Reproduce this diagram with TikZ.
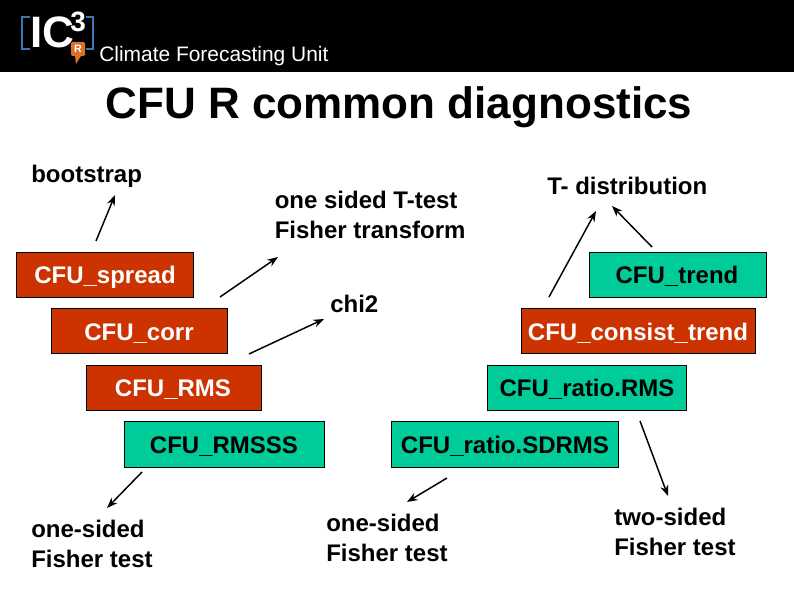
\documentclass[tikz,border=0pt]{standalone}
\usepackage{fontspec}
\setmainfont{Liberation Sans}
\usetikzlibrary{arrows.meta}
\definecolor{redbox}{RGB}{204,51,0}
\definecolor{greenbox}{RGB}{0,204,153}
\definecolor{logoblue}{RGB}{62,120,178}
\definecolor{logoorange}{RGB}{222,110,40}
\tikzset{
  x=0.75pt,y=-0.75pt,
  box/.style={draw=black,line width=0.7pt,minimum height=34.2pt,inner sep=0pt,font=\fontsize{18}{18}\selectfont\bfseries},
  redb/.style={box,fill=redbox,text=white!95!yellow},
  greenb/.style={box,fill=greenbox,text=black},
  lab/.style={inner sep=0pt,align=left,font=\fontsize{18}{22.5}\selectfont\bfseries,text=black},
  arr/.style={line width=1.1pt,-{Stealth[length=8pt,width=6pt]}},
  lg/.style={line width=2.2pt,logoblue}
}
\newcommand{\mybox}[6]{\node[#1,minimum width=#5*0.75pt-#3*0.75pt] (#2) at ({(#3+#5)/2},{(#4+#6)/2}) {};}
\begin{document}
\begin{tikzpicture}
\useasboundingbox (0,0) rectangle (794,595);
\fill[white] (0,0) rectangle (794,595);
\fill[black] (0,0) rectangle (794,72);
% logo
\draw[lg] (30,17) -- (22,17) -- (22,49) -- (30,49);
\draw[lg] (86,17) -- (93,17) -- (93,49) -- (86,49);
\node[inner sep=0pt,anchor=base west,text=white,font=\fontsize{33}{33}\selectfont\bfseries] (ic) at (30,48) {IC};
\node[inner sep=0pt,anchor=base west,text=white,font=\fontsize{21}{21}\selectfont\bfseries] (three) at (70,32) {3};
\fill[logoorange,rounded corners=1pt] (71,42) rectangle (85,56);
\fill[logoorange] (75,56) -- (81,56) -- (76,64) -- cycle;
\node[inner sep=0pt,text=white,font=\fontsize{8}{8}\selectfont\bfseries] (rr) at (78,49) {R};
\node[inner sep=0pt,anchor=base west,text=white,font=\fontsize{15.7}{16}\selectfont] (unit) at (99,62) {Climate Forecasting Unit};
\node[inner sep=0pt,anchor=base,text=black,font=\fontsize{33}{33}\selectfont\bfseries] (title) at (399,119) {CFU R common diagnostics};
% boxes
\mybox{redb}{spread}{16}{252}{193}{298}
\mybox{redb}{corr}{51}{308}{227}{354}
\mybox{redb}{rms}{86}{365}{261}{411}
\mybox{greenb}{rmsss}{124}{422}{324}{467}
\mybox{greenb}{trend}{589}{252}{766}{298}
\mybox{redb}{consist}{521}{308}{755}{354}
\mybox{greenb}{ratio}{487}{365}{686}{411}
\mybox{greenb}{sdrms}{391}{422}{618}{467}
\node[lab,text=white,anchor=base] at (105,284) {CFU\_spread};
\node[lab,text=white,anchor=base] at (139,341) {CFU\_corr};
\node[lab,text=white,anchor=base] at (173,397) {CFU\_RMS};
\node[lab,anchor=base] at (224,454) {CFU\_RMSSS};
\node[lab,anchor=base] at (677,284) {CFU\_trend};
\node[lab,text=white,anchor=base] at (638,341) {CFU\_consist\_trend};
\node[lab,anchor=base] at (587,397) {CFU\_ratio.RMS};
\node[lab,anchor=base] at (505,454) {CFU\_ratio.SDRMS};
% labels
\node[lab,anchor=base west] (boot) at (31,183) {bootstrap};
\node[lab,anchor=north west] (onet) at (274.5,191) {one sided T-test\\Fisher transform};
\node[lab,anchor=base west] (chi) at (330,313) {chi2};
\node[lab,anchor=base west] (tdist) at (547,195) {T- distribution};
\node[lab,anchor=north west] (f1) at (31,520) {one-sided\\Fisher test};
\node[lab,anchor=north west] (f2) at (326,514) {one-sided\\Fisher test};
\node[lab,anchor=north west] (f3) at (614,508) {two-sided\\Fisher test};
% connector ends
\coordinate (a1) at (96,241); \coordinate (b1) at (115,195);
\coordinate (a2) at (220,297); \coordinate (b2) at (278,257);
\coordinate (a3) at (249,354); \coordinate (b3) at (324,319);
\coordinate (a4) at (549,297); \coordinate (b4) at (596,211);
\coordinate (a5) at (652,247); \coordinate (b5) at (612,206);
\coordinate (a6) at (142,472); \coordinate (b6) at (107,508);
\coordinate (a7) at (447,478); \coordinate (b7) at (407,502);
\coordinate (a8) at (640,421); \coordinate (b8) at (668,496);
\foreach \i in {1,...,8} \draw[arr] (a\i) -- (b\i);
\end{tikzpicture}
\end{document}
